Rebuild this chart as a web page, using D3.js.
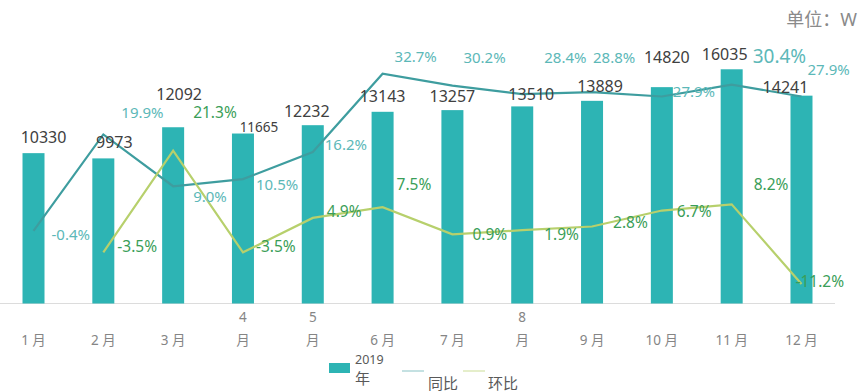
<!DOCTYPE html>
<html><head><meta charset="utf-8">
<script src="https://cdn.jsdelivr.net/npm/d3@7/dist/d3.min.js"></script>
<style>
html,body{margin:0;padding:0;background:#fff;}
svg{display:block;font-family:"Noto Sans","Noto Sans CJK SC",sans-serif;}
</style></head>
<body><svg id="chart" width="860" height="392"></svg>
<script>
// ---- data ----
const months = ["1月","2月","3月","4月","5月","6月","7月","8月","9月","10月","11月","12月"];
const tickLabels = ["1 月","2 月","3 月","4\n月","5\n月","6 月","7 月","8\n月","9 月","10 月","11 月","12 月"];
const sales2019 = [10330, 9973, 12092, 11665, 12232, 13143, 13257, 13510, 13889, 14820, 16035, 14241];
const yoy = [-0.4, 19.9, 9.0, 10.5, 16.2, 32.7, 30.2, 28.4, 28.8, 27.9, 30.4, 27.9];
const mom = [null, -3.5, 21.3, -3.5, 4.9, 7.5, 0.9, 1.9, 2.8, 6.7, 8.2, -11.2];
const legendNames = ["2019\n年", "同比", "环比"];
const unitText = "单位：W";

// ---- label layout (pixel nudges, not data) ----
const barLabelNudge = [[10,-10],[11,-10],[6,-27],[16,-2],[-6,-8],[0,-10],[0,-8],[9,-6],[8,-9],[5,-24],[-7,-9],[-16,-3]];
const yoyLabelNudge = [[18,9],[18,-16],[20,16],[13,11],[12,-2],[12,-12],[11,-23],[22,-31],[1,-29],[11,1],[21,-22],[6,-21]];
const momLabelNudge = [null,[14,0],[20,-33],[13,0],[14,-1],[14,-17],[20,6],[22,10],[21,1],[15,6],[22,-14],[-6,3]];

const svg = d3.select("#chart");

const x = d3.scalePoint().domain(months).range([-1.4, 836.4]).padding(0.5);
const barW = 22;
const y = d3.scaleLinear().domain([0, 20000]).range([305, 11]);
const yYoy = d3.scaleLinear().domain([-10, 40]).range([276.5, 39]);
const yMom = d3.scaleLinear().domain([-15, 40]).range([299.5, 74]);

const barColor = "#2db4b4";
const yoyColor = "#3e9d9f";
const yoyText = "#5cb8b8";
const momColor = "#b7d06c";
const momText = "#3a9e58";
const pct = d => d.toFixed(1) + "%";

// baseline axis line
svg.append("line").attr("x1", 0).attr("x2", 835)
  .attr("y1", 303.5).attr("y2", 303.5)
  .attr("stroke", "#dcdcdc").attr("stroke-width", 1.2);

// bars
svg.append("g").selectAll("rect").data(sales2019).join("rect")
  .attr("x", (d,i) => x(months[i]) - barW/2)
  .attr("y", d => y(d))
  .attr("width", barW)
  .attr("height", d => Math.max(0, y(0) - 1.5 - y(d)))
  .attr("fill", barColor);

// lines
const lineYoy = d3.line().x((d,i) => x(months[i])).y(d => yYoy(d));
svg.append("path").datum(yoy).attr("d", lineYoy)
  .attr("fill", "none").attr("stroke", yoyColor).attr("stroke-width", 2.2);

const lineMom = d3.line().defined(d => d !== null).x((d,i) => x(months[i])).y(d => yMom(d));
svg.append("path").datum(mom).attr("d", lineMom)
  .attr("fill", "none").attr("stroke", momColor).attr("stroke-width", 2.2);

// bar labels
svg.append("g").selectAll("text").data(sales2019).join("text")
  .attr("x", (d,i) => x(months[i]) + barLabelNudge[i][0])
  .attr("y", (d,i) => y(d) + barLabelNudge[i][1])
  .attr("text-anchor", "middle")
  .attr("font-size", (d,i) => i === 3 ? 13.5 : 16)
  .attr("fill", "#404040")
  .text(d => d);

// yoy labels
svg.append("g").selectAll("text").data(yoy).join("text")
  .attr("x", (d,i) => x(months[i]) + yoyLabelNudge[i][0])
  .attr("y", (d,i) => yYoy(d) + yoyLabelNudge[i][1])
  .attr("font-size", (d,i) => i === 10 ? 19 : 15)
  .attr("fill", yoyText)
  .text(pct);

// mom labels
svg.append("g").selectAll("text").data(mom.map((d,i)=>({d,i})).filter(o => o.d !== null)).join("text")
  .attr("x", o => x(months[o.i]) + momLabelNudge[o.i][0])
  .attr("y", o => yMom(o.d) + momLabelNudge[o.i][1])
  .attr("font-size", 15.5)
  .attr("fill", momText)
  .text(o => pct(o.d));

// x tick labels
const tg = svg.append("g");
tickLabels.forEach((t, i) => {
  const lines = t.split("\n");
  const txt = tg.append("text")
    .attr("x", x(months[i]))
    .attr("y", 345 - (lines.length - 1) * 23)
    .attr("text-anchor", "middle")
    .attr("font-size", 13.5)
    .attr("fill", "#858585");
  lines.forEach((l, k) => {
    txt.append("tspan").attr("x", x(months[i])).attr("dy", k === 0 ? 0 : 23).text(l);
  });
});

// unit
svg.append("text").attr("x", 857).attr("y", 26).attr("text-anchor", "end")
  .attr("font-size", 18).attr("fill", "#8a8a8a").text(unitText);

// legend
const lg = svg.append("g");
lg.append("rect").attr("x", 329).attr("y", 363).attr("width", 21).attr("height", 10).attr("fill", barColor);
const l0 = legendNames[0].split("\n");
lg.append("text").attr("x", 355).attr("y", 364).attr("font-size", 12.5).attr("fill", "#595959").text(l0[0]);
lg.append("text").attr("x", 355).attr("y", 384).attr("font-size", 15).attr("fill", "#595959").text(l0[1]);
lg.append("line").attr("x1", 402).attr("x2", 424).attr("y1", 371).attr("y2", 371)
  .attr("stroke", yoyColor).attr("stroke-width", 1).attr("opacity", 0.6);
lg.append("text").attr("x", 428).attr("y", 389).attr("font-size", 15).attr("fill", "#595959").text(legendNames[1]);
lg.append("line").attr("x1", 463).attr("x2", 485).attr("y1", 371).attr("y2", 371)
  .attr("stroke", momColor).attr("stroke-width", 1).attr("opacity", 0.7);
lg.append("text").attr("x", 488).attr("y", 389).attr("font-size", 15).attr("fill", "#595959").text(legendNames[2]);
</script></body></html>
